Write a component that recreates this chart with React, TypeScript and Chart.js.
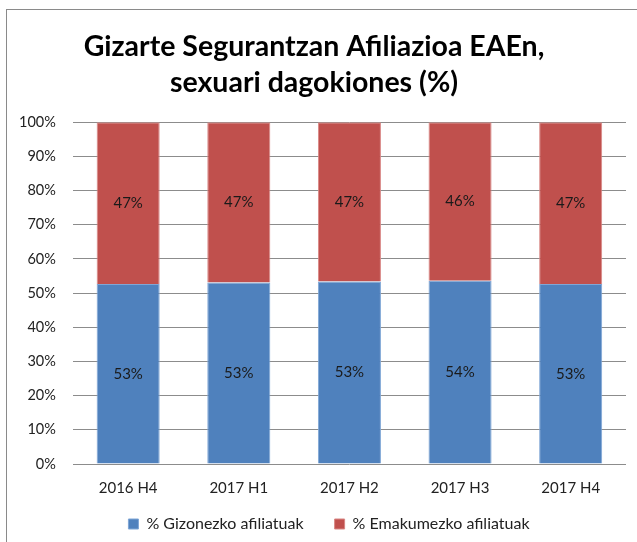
import React, { useEffect, useRef } from "react";
import { Chart, registerables } from "chart.js";

Chart.register(...registerables);

const categories = ["2016 H4", "2017 H1", "2017 H2", "2017 H3", "2017 H4"];
const menValues = [52.7, 53.1, 53.4, 53.6, 52.7];
const womenValues = [47.3, 46.9, 46.6, 46.4, 47.3];
const seriesNames = ["% Gizonezko afiliatuak", "% Emakumezko afiliatuak"];
const titleLines = ["Gizarte Segurantzan Afiliazioa EAEn,", "sexuari dagokiones (%)"];

const FONT = "Lato, 'Open Sans', sans-serif";
const LEGEND_SHIFT = 11;
const LEGEND_X_SHIFT = 15;

const labelPlugin = {
  id: "segmentLabels",
  afterDatasetsDraw(chart: any) {
    const ctx = chart.ctx;
    ctx.save();
    ctx.font = `15px ${FONT}`;
    ctx.fillStyle = "#1a1a1a";
    ctx.textAlign = "center";
    ctx.textBaseline = "middle";
    chart.data.datasets.forEach((ds: any, di: number) => {
      const meta = chart.getDatasetMeta(di);
      meta.data.forEach((el: any, i: number) => {
        const p = el.getCenterPoint();
        ctx.fillText(Math.round(ds.data[i]) + "%", p.x, p.y);
      });
    });
    ctx.restore();
  },
};

// legend: keep a wide horizontal gap between items while reserving less vertical room
const legendSpacingPlugin = {
  id: "legendSpacing",
  beforeLayout(chart: any) {
    const lg = chart.legend;
    if (lg && !lg.__patched) {
      const orig = lg.fit;
      lg.fit = function (this: any) {
        orig.call(this);
        this.height = Math.max(0, this.height - LEGEND_SHIFT);
      };
      lg.__patched = true;
    }
  },
  afterLayout(chart: any) {
    const lg = chart.legend;
    if (lg) {
      lg.top -= LEGEND_SHIFT;
      lg.left += LEGEND_X_SHIFT;
      lg.right += LEGEND_X_SHIFT;
    }
  },
};

export default function App() {
  const ref = useRef<HTMLCanvasElement | null>(null);
  useEffect(() => {
    if (!ref.current) return;
    const chart = new Chart(ref.current, {
      type: "bar",
      data: {
        labels: categories,
        datasets: [
          {
            label: seriesNames[0],
            data: menValues,
            backgroundColor: "#4F81BD",
            borderColor: "#7fa6d6",
            borderWidth: 1,
          },
          {
            label: seriesNames[1],
            data: womenValues,
            backgroundColor: "#C0504D",
            borderColor: "#d98785",
            borderWidth: 1,
          },
        ],
      },
      options: {
        animation: false,
        responsive: false,
        maintainAspectRatio: false,
        layout: { padding: { left: 2, right: 11, top: 0, bottom: 0 } },
        datasets: { bar: { categoryPercentage: 1, barPercentage: 0.57 } },
        scales: {
          x: {
            stacked: true,
            grid: { display: false, drawTicks: true, tickLength: 17 },
            border: { display: false },
            ticks: { font: { family: FONT, size: 15, lineHeight: 1 }, color: "#222", padding: 0 },
          },
          y: {
            stacked: true,
            min: 0,
            max: 100,
            ticks: {
              stepSize: 10,
              callback: (v: any) => v + "%",
              font: { family: FONT, size: 14.5 },
              color: "#222",
              padding: 17,
            },
            grid: { color: "#8c8c8c", drawTicks: false, lineWidth: 1 },
            border: { display: false },
          },
        },
        plugins: {
          title: {
            display: true,
            text: titleLines,
            font: { family: FONT, size: 28.5, weight: "bold", lineHeight: 1.25 },
            color: "#000",
            padding: { top: 29, bottom: 22 },
          },
          legend: {
            position: "bottom",
            labels: {
              boxWidth: 10,
              boxHeight: 10,
              font: { family: FONT, size: 16 },
              color: "#222",
              padding: 31,
            },
          },
          tooltip: { enabled: false },
        },
      },
      plugins: [labelPlugin, legendSpacingPlugin],
    });
    return () => chart.destroy();
  }, []);
  return (
    <div style={{ position: "absolute", left: 0, top: 0, width: 637, height: 542, overflow: "hidden", background: "#fff" }}>
      <div style={{ position: "absolute", left: 6, top: 9, width: 700, height: 600, border: "1px solid #8a8a8a" }} />
      <canvas ref={ref} width={637} height={542} style={{ position: "absolute", left: 0, top: 0 }} />
    </div>
  );
}
